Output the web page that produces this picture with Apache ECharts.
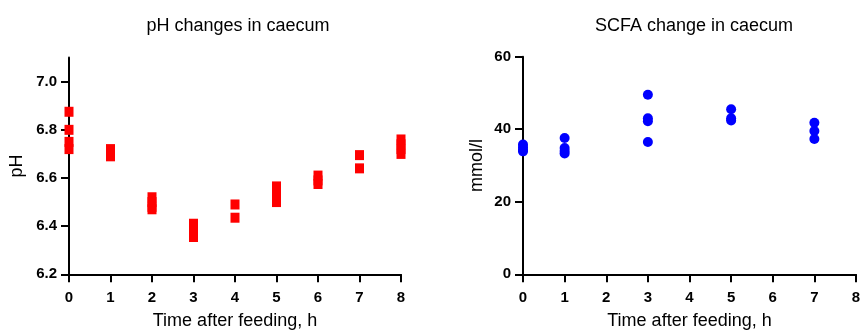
<!DOCTYPE html>
<html>
<head>
<meta charset="utf-8">
<script src="https://cdn.jsdelivr.net/npm/echarts@6/dist/echarts.min.js"></script>
<style>
  html, body { margin: 0; padding: 0; background: #fff; }
  #chart { width: 862px; height: 331px; }
</style>
</head>
<body>
<div id="chart"></div>
<script>
// Caecal pH after feeding (individual measurements)
const phHours  = [0, 0, 0, 0, 1, 1, 1, 2, 2, 2, 2, 3, 3, 3, 3, 4, 4, 5, 5, 5, 5, 6, 6, 6, 7, 7, 8, 8, 8, 8];
const phValues = [6.875, 6.80, 6.75, 6.72, 6.72, 6.70, 6.69, 6.52, 6.50, 6.48, 6.47, 6.41, 6.39, 6.37, 6.355,
                  6.49, 6.435, 6.565, 6.54, 6.52, 6.50, 6.61, 6.59, 6.575, 6.695, 6.64, 6.76, 6.74, 6.72, 6.70];

// Short-chain fatty acids in caecum, mmol/l
const scfaHours  = [0, 0, 0, 0, 1, 1, 1, 1, 3, 3, 3, 3, 5, 5, 5, 7, 7, 7];
const scfaValues = [35.8, 35.0, 34.3, 33.9, 37.6, 34.8, 34.0, 33.3, 49.5, 43.0, 42.2, 36.5, 45.5, 43.0, 42.4, 41.8, 39.5, 37.3];

const hourTicks = [0, 1, 2, 3, 4, 5, 6, 7, 8];
const phTicks = [6.2, 6.4, 6.6, 6.8, 7.0];

const FONT = 'Liberation Sans, Arial, sans-serif';
const TICK_FONT = { fontFamily: FONT, fontSize: 15, fontWeight: 'bold', color: '#000' };
const NAME_FONT = { fontFamily: FONT, fontSize: 18, color: '#000' };
const TITLE_FONT = { fontFamily: FONT, fontSize: 18, fontWeight: 'normal', color: '#000' };

function pairs(xs, ys) {
  return xs.map((x, i) => [x, ys[i]]);
}

function xAxisFor(gridIndex) {
  return {
    gridIndex, type: 'value', min: 0, max: 8, interval: 1,
    name: 'Time after feeding, h', nameLocation: 'middle', nameGap: 38,
    nameTextStyle: NAME_FONT,
    axisLine: { show: true, onZero: false, lineStyle: { color: '#000', width: 2 } },
    axisTick: { show: true, length: 8, lineStyle: { color: '#000', width: 2 }, customValues: hourTicks },
    axisLabel: Object.assign({ margin: 16, customValues: hourTicks }, TICK_FONT),
    splitLine: { show: false }
  };
}

const chart = echarts.init(document.getElementById('chart'), null, { renderer: 'canvas' });

chart.setOption({
  animation: false,
  backgroundColor: '#fff',
  title: [
    { text: 'pH changes in caecum', left: 233, top: 12, textAlign: 'center', textStyle: TITLE_FONT },
    { text: 'SCFA change in caecum', left: 689, top: 12, textAlign: 'center', textStyle: TITLE_FONT }
  ],
  grid: [
    { left: 69, right: 461, top: 57.6, bottom: 56.7, containLabel: false, outerBoundsMode: 'none' },
    { left: 523, right: 6, top: 56.7, bottom: 56.7, containLabel: false, outerBoundsMode: 'none' }
  ],
  xAxis: [xAxisFor(0), xAxisFor(1)],
  yAxis: [
    {
      gridIndex: 0, type: 'value', min: 6.2, max: 7.1,
      name: 'pH', nameLocation: 'middle', nameGap: 43, nameRotate: 90,
      nameTextStyle: NAME_FONT,
      axisLine: { show: true, onZero: false, lineStyle: { color: '#000', width: 2 } },
      axisTick: { show: true, length: 8, lineStyle: { color: '#000', width: 2 }, customValues: phTicks },
      axisLabel: Object.assign({ margin: 12, customValues: phTicks, formatter: v => v.toFixed(1) }, TICK_FONT),
      splitLine: { show: false }
    },
    {
      gridIndex: 1, type: 'value', min: 0, max: 60, interval: 20,
      name: 'mmol/l', nameLocation: 'middle', nameGap: 37, nameRotate: 90,
      nameTextStyle: NAME_FONT,
      axisLine: { show: true, onZero: false, lineStyle: { color: '#000', width: 2 } },
      axisTick: { show: true, length: 8, lineStyle: { color: '#000', width: 2 } },
      axisLabel: Object.assign({ margin: 12 }, TICK_FONT),
      splitLine: { show: false }
    }
  ],
  series: [
    {
      type: 'scatter', xAxisIndex: 0, yAxisIndex: 0,
      symbol: 'rect', symbolSize: [9, 10],
      itemStyle: { color: '#ff0000', opacity: 1 },
      data: pairs(phHours, phValues)
    },
    {
      type: 'scatter', xAxisIndex: 1, yAxisIndex: 1,
      symbol: 'circle', symbolSize: 10,
      itemStyle: { color: '#0000ff', opacity: 1 },
      data: pairs(scfaHours, scfaValues)
    }
  ]
});
</script>
</body>
</html>
